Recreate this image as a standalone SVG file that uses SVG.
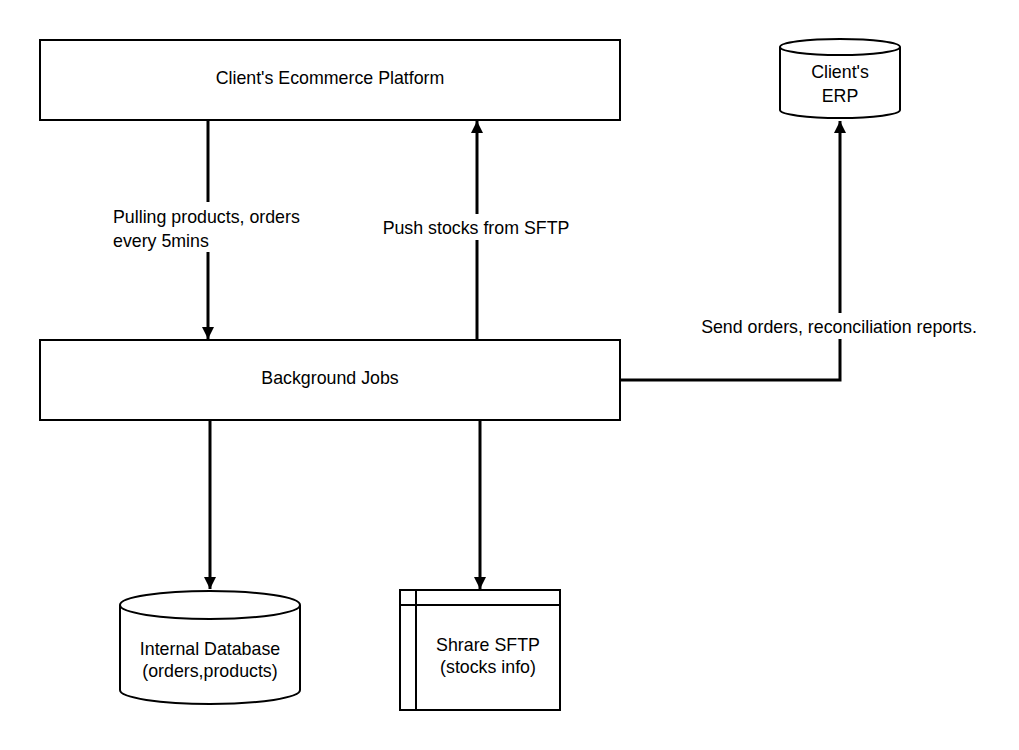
<svg xmlns="http://www.w3.org/2000/svg" width="1019" height="750" viewBox="0 0 1019 750">
<style>
.s{fill:#fff;stroke:#000;stroke-width:2}
.t{font-family:"Liberation Sans",Arial,sans-serif;font-size:17.8px;fill:#000;text-anchor:middle}
.c{fill:none;stroke:#000;stroke-width:3}
.lb{fill:#fff}
</style>
<defs>
<marker id="a" viewBox="0 0 10 10" refX="10" refY="5" markerWidth="4" markerHeight="4" markerUnits="strokeWidth" orient="auto">
<path d="M0,0 L10,5 L0,10 z" fill="#000"/>
</marker>
</defs>
<rect width="1019" height="750" fill="#fff"/>
<g id="connectors">
<path class="c" d="M208,121 V339" marker-end="url(#a)"/>
<path class="c" d="M477,339 V121" marker-end="url(#a)"/>
<path class="c" d="M621,380 H840 V121" marker-end="url(#a)"/>
<path class="c" d="M210,421 V589" marker-end="url(#a)"/>
<path class="c" d="M480,421 V589" marker-end="url(#a)"/>
<rect class="lb" x="109" y="202" width="200" height="50"/>
<text class="t" x="113" y="223" style="text-anchor:start">Pulling products, orders</text>
<text class="t" x="113" y="247" style="text-anchor:start">every 5mins</text>
<rect class="lb" x="378" y="214" width="198" height="26"/>
<text class="t" x="476" y="234">Push stocks from SFTP</text>
<rect class="lb" x="698" y="313" width="284" height="26"/>
<text class="t" x="839" y="333">Send orders, reconciliation reports.</text>
</g>
<g id="ecommerce">
<rect class="s" x="40" y="40" width="580" height="80"/>
<text class="t" x="330" y="84">Client's Ecommerce Platform</text>
</g>
<g id="jobs">
<rect class="s" x="40" y="340" width="580" height="80"/>
<text class="t" x="330" y="384">Background Jobs</text>
</g>
<g id="erp">
<path class="s" d="M780,47 A60,8 0 0 1 900,47 V110 A60,8 0 0 1 780,110 Z"/>
<path class="s" fill="none" d="M780,47 A60,8 0 0 0 900,47"/>
<text class="t" x="840" y="78">Client's</text>
<text class="t" x="840" y="102">ERP</text>
</g>
<g id="database">
<path class="s" d="M120,605 A90,14 0 0 1 300,605 V690 A90,14 0 0 1 120,690 Z"/>
<path class="s" fill="none" d="M120,605 A90,14 0 0 0 300,605"/>
<text class="t" x="210" y="655">Internal Database</text>
<text class="t" x="210" y="677">(orders,products)</text>
</g>
<g id="sftp">
<rect class="s" x="400" y="590" width="160" height="120"/>
<path class="s" d="M400,605 H560 M416,590 V710"/>
<text class="t" x="488" y="651">Shrare SFTP</text>
<text class="t" x="488" y="673">(stocks info)</text>
</g>
</svg>
